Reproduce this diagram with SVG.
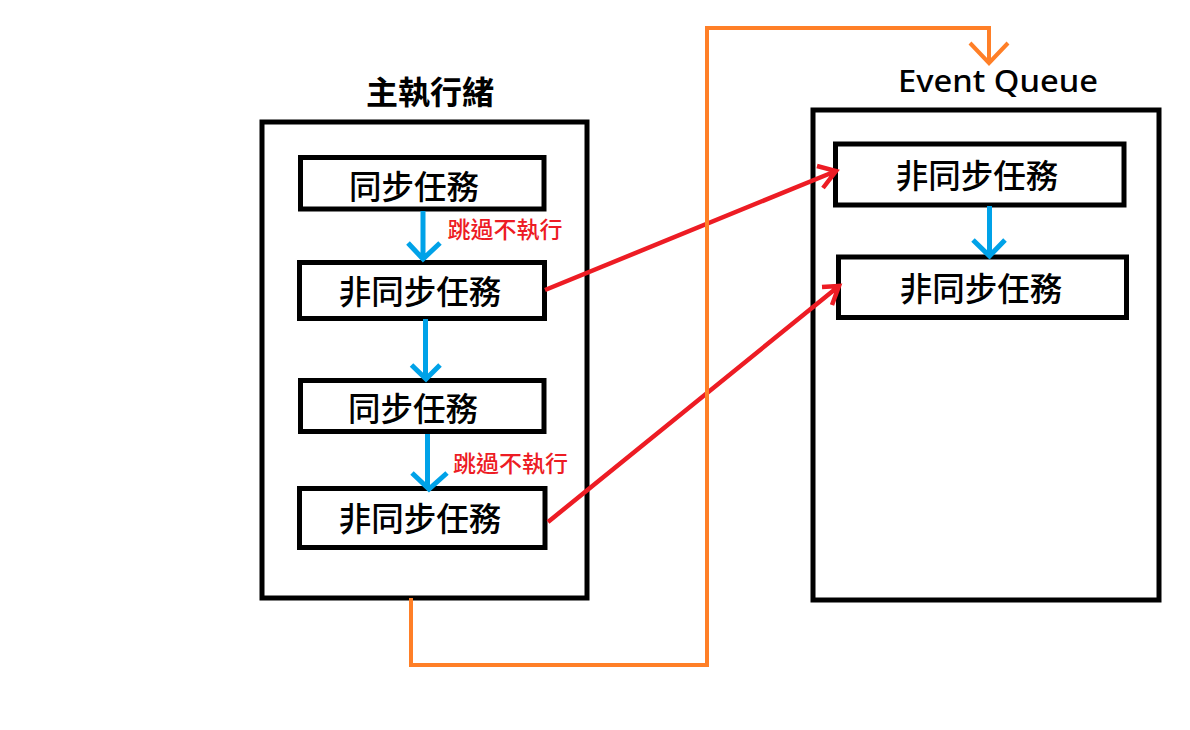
<svg xmlns="http://www.w3.org/2000/svg" width="1190" height="730" viewBox="0 0 1190 730">
<style>
.box{fill:#fff;stroke:#000;stroke-width:5}
.t{font-family:"Noto Sans CJK TC","Noto Sans",sans-serif;font-size:32.5px;font-weight:500;fill:#000;text-anchor:middle;dominant-baseline:central}
.title{font-family:"Noto Sans CJK TC","Noto Sans",sans-serif;font-size:32px;font-weight:bold;fill:#000;text-anchor:middle}
.lbl{font-family:"Noto Sans CJK TC",sans-serif;font-size:23px;font-weight:500;fill:#ED1C24;text-anchor:middle;dominant-baseline:central}
.blue{fill:none;stroke:#00A2E8;stroke-width:5}
.red{fill:none;stroke:#ED1C24;stroke-width:4.5}
.orange{fill:none;stroke:#FF7F27;stroke-width:4}
</style>
<rect width="1190" height="730" fill="#fff"/>
<g id="main-thread">
<rect class="box" x="262" y="122" width="325" height="476"/>
<text class="title" x="430" y="104">主執行緒</text>
</g>
<g id="event-queue">
<rect class="box" x="813" y="110" width="346" height="490"/>
<text x="998" y="92" font-family="Noto Sans, sans-serif" font-size="31" font-weight="500" fill="#000" text-anchor="middle" textLength="200" lengthAdjust="spacingAndGlyphs">Event Queue</text>
</g>
<g id="sync1"><rect class="box" x="300.5" y="157.5" width="243.5" height="51.5"/><text class="t" x="414" y="184">同步任務</text></g>
<g id="async1"><rect class="box" x="299.5" y="262.5" width="245" height="56"/><text class="t" x="420" y="289">非同步任務</text></g>
<g id="sync2"><rect class="box" x="300.5" y="380.5" width="243.5" height="51"/><text class="t" x="413" y="406">同步任務</text></g>
<g id="async2"><rect class="box" x="299.5" y="488.5" width="245.5" height="59"/><text class="t" x="420" y="516">非同步任務</text></g>
<g id="eq-async1"><rect class="box" x="835.5" y="144" width="288.5" height="61"/><text class="t" x="977" y="173">非同步任務</text></g>
<g id="eq-async2"><rect class="box" x="838.5" y="257" width="288" height="60.5"/><text class="t" x="981" y="286">非同步任務</text></g>
<g id="connectors">
<path class="blue" d="M423 211V260M408 243L423 259L440 243"/>
<path class="blue" d="M425.5 319V378M411.5 365L426 379L440 365"/>
<path class="blue" d="M427.5 434V488M412 473L429 489L447 473"/>
<path class="blue" d="M989.5 206V256M973 240L989.5 256L1005 240"/>
<path class="red" d="M545 290L836 171M817 166L836 171L823 188"/>
<path class="red" d="M548 522L839 286M822 287L839 286L832 305"/>
<path class="orange" d="M411 598V665H707V28H989V63M970 43L989 63L1008 43"/>
<text class="lbl" x="505" y="228">跳過不執行</text>
<text class="lbl" x="510.5" y="462">跳過不執行</text>
</g>
</svg>
